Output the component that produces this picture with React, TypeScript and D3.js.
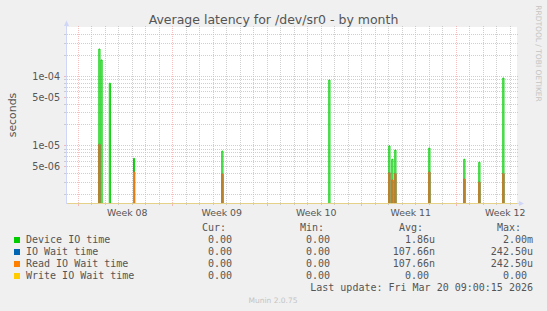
import React, { useEffect, useRef } from 'react';
import * as d3 from 'd3';

const W = 547;
const H = 311;

// x axis: one label per ISO week, starting on the Monday
const weekStarts = ['2026-02-16', '2026-02-23', '2026-03-02', '2026-03-09', '2026-03-16'];
const weekLabels = ['Week 08', 'Week 09', 'Week 10', 'Week 11', 'Week 12'];

// y axis (log) labelled lines
const yTicks = [1e-4, 5e-5, 1e-5, 5e-6];
const yTickLabels = ['1e-04', '5e-05', '1e-05', '5e-06'];

// non-zero 2h samples, everything else is 0
const sampleTimes = [
  '2026-02-17T12:30', '2026-02-17T16:20', '2026-02-18T07:06', '2026-02-20T02:08',
  '2026-02-26T15:07', '2026-03-06T13:20', '2026-03-11T00:00', '2026-03-11T05:20',
  '2026-03-11T10:40', '2026-03-13T23:07', '2026-03-16T13:20', '2026-03-17T16:00',
  '2026-03-19T10:40',
];
const deviceIO = [2.49e-4, 1.73e-4, 8.0e-5, 6.6e-6, 8.4e-6, 8.9e-5, 1.0e-5, 6.4e-6, 8.7e-6, 9.3e-6, 6.4e-6, 5.8e-6, 9.5e-5];
const ioWait = [1.05e-5, 0, 0, 4.2e-6, 3.9e-6, 0, 4.1e-6, 3.2e-6, 4.0e-6, 4.2e-6, 3.3e-6, 3.0e-6, 4.0e-6];
const readIO = [1.05e-5, 0, 0, 4.2e-6, 3.9e-6, 0, 4.1e-6, 3.2e-6, 4.0e-6, 4.2e-6, 3.3e-6, 3.0e-6, 4.0e-6];
const writeIO = [0, 0, 0, 0, 0, 0, 0, 0, 0, 0, 0, 0, 0];

// legend
const seriesNames = ['Device IO time', 'IO Wait time', 'Read IO Wait time', 'Write IO Wait time'];
const seriesColors = ['#00cc00', '#0066b3', '#ff8000', '#ffcc00'];
const curVals = ['0.00', '0.00', '0.00', '0.00'];
const minVals = ['0.00', '0.00', '0.00', '0.00'];
const avgVals = ['1.86u', '107.66n', '107.66n', '0.00'];
const maxVals = ['2.00m', '242.50u', '242.50u', '0.00'];

const SAMPLE_HOURS = 2;

const App: React.FC = () => {
  const ref = useRef<SVGSVGElement | null>(null);

  useEffect(() => {
    document.body.style.margin = '0';
    if (!ref.current) return;
    const svg = d3.select(ref.current);
    svg.selectAll('*').remove();

    const sans = 'DejaVu Sans, sans-serif';
    const mono = 'DejaVu Sans Mono, monospace';
    const textCol = '#555';
    const axisCol = '#cfd6f8';

    const left = 67, right = 517, top = 28, bottom = 203;
    const parseT = d3.timeParse('%Y-%m-%dT%H:%M');
    const parseD = d3.timeParse('%Y-%m-%d');

    const xStart = parseT('2026-02-15T03:55') as Date;
    const xEnd = parseT('2026-03-20T11:54') as Date;
    const x = d3.scaleTime().domain([xStart, xEnd]).range([left, right]);
    const yMin = 1.5e-6;
    const y = d3.scaleLog().domain([yMin, 5e-4]).range([bottom, top]);
    // zero / off-scale values sit on the axis row
    const yPos = (v: number) => (v <= yMin ? bottom + 0.5 : y(v));

    svg.append('rect').attr('width', W).attr('height', H).attr('fill', '#f0f0f0');
    svg.append('rect').attr('x', left).attr('y', 27).attr('width', right - left).attr('height', bottom - 27).attr('fill', '#fff');

    const minorCol = 'rgba(191,191,191,0.75)';
    const majorCol = 'rgba(242,128,128,0.5)';
    const grid = svg.append('g');

    // horizontal grid
    const minorY: number[] = [];
    for (let e = -6; e <= -4; e++) {
      for (let m = 1; m <= 9; m++) {
        const v = m * Math.pow(10, e);
        if (yTicks.some(t => Math.abs(t - v) / v < 1e-6)) continue;
        const py = y(v);
        if (py < top + 1 || py > bottom - 1) continue;
        minorY.push(v);
      }
    }
    const hline = (v: number, col: string) => {
      const py = Math.floor(y(v)) + 0.5;
      grid.append('line').attr('x1', left).attr('x2', right + 2).attr('y1', py).attr('y2', py)
        .attr('stroke', col).attr('stroke-dasharray', '1,1');
      grid.append('line').attr('x1', left - 3).attr('x2', left).attr('y1', py).attr('y2', py).attr('stroke', col);
    };
    minorY.forEach(v => hline(v, minorCol));
    yTicks.forEach(v => hline(v, majorCol));

    // vertical grid
    const days = d3.timeDay.range(xStart, xEnd);
    const vline = (d: Date, col: string, tick: number) => {
      const px = Math.floor(x(d)) + 0.5;
      grid.append('line').attr('x1', px).attr('x2', px).attr('y1', 26).attr('y2', bottom)
        .attr('stroke', col).attr('stroke-dasharray', '1,1');
      grid.append('line').attr('x1', px).attr('x2', px).attr('y1', bottom).attr('y2', bottom + tick).attr('stroke', col);
    };
    days.filter(d => d.getDay() !== 1).forEach(d => vline(d, minorCol, 2));
    weekStarts.forEach(s => vline(parseD(s) as Date, majorCol, 3));

    // y axis + arrow
    svg.append('line').attr('x1', left - 0.5).attr('x2', left - 0.5).attr('y1', 24).attr('y2', bottom + 1)
      .attr('stroke', axisCol);
    svg.append('path').attr('d', `M${left - 3},26 L${left - 0.5},20.5 L${left + 2},26 Z`).attr('fill', axisCol);
    svg.append('line').attr('x1', left - 1).attr('x2', right + 3).attr('y1', bottom + 0.5).attr('y2', bottom + 0.5)
      .attr('stroke', axisCol);

    // series
    svg.append('clipPath').attr('id', 'plotclip').append('rect')
      .attr('x', left).attr('y', 20).attr('width', right - left).attr('height', bottom - 20 + 1);
    const line = d3.line<[Date, number]>()
      .x(d => x(d[0]))
      .y(d => yPos(d[1]))
      .curve(d3.curveStepAfter);
    const series = [deviceIO, ioWait, readIO, writeIO];
    const lines = svg.append('g').attr('clip-path', 'url(#plotclip)');
    series.forEach((vals, i) => {
      const pts: [Date, number][] = [[xStart, 0]];
      sampleTimes.forEach((t, j) => {
        const d = parseT(t) as Date;
        pts.push([d, vals[j]]);
        pts.push([d3.timeHour.offset(d, SAMPLE_HOURS), 0]);
      });
      pts.push([xEnd, 0]);
      lines.append('path').attr('d', line(pts) || '')
        .attr('fill', 'none').attr('stroke', seriesColors[i]).attr('stroke-width', 1);
    });

    // x axis drawn over the zero lines (blends to the tan base line)
    svg.append('line').attr('x1', left - 1).attr('x2', right + 3).attr('y1', bottom + 0.5).attr('y2', bottom + 0.5)
      .attr('stroke', axisCol).attr('stroke-opacity', 0.55);
    svg.append('path').attr('d', `M${right + 2},${bottom - 2} L${right + 7},${bottom + 0.5} L${right + 2},${bottom + 3} Z`).attr('fill', axisCol);

    // y labels
    yTicks.forEach((v, i) => {
      svg.append('text').attr('x', 60).attr('y', Math.floor(y(v)) + 4)
        .attr('text-anchor', 'end').attr('font-family', sans).attr('font-size', 9.6)
        .attr('fill', textCol).text(yTickLabels[i]);
    });

    // week labels
    weekStarts.forEach((s, i) => {
      const mid = d3.timeHour.offset(parseD(s) as Date, 87);
      svg.append('text').attr('x', x(mid)).attr('y', 216)
        .attr('text-anchor', 'middle').attr('font-family', sans).attr('font-size', 9.4)
        .attr('fill', textCol).text(weekLabels[i]);
    });

    // title, unit, watermark
    svg.append('text').attr('x', W / 2).attr('y', 24).attr('text-anchor', 'middle')
      .attr('font-family', sans).attr('font-size', 12.5).attr('fill', textCol)
      .text('Average latency for /dev/sr0 - by month');
    svg.append('text').attr('transform', 'translate(15.5,115) rotate(-90)').attr('text-anchor', 'middle')
      .attr('font-family', sans).attr('font-size', 10.9).attr('fill', textCol).text('seconds');
    svg.append('text').attr('transform', 'translate(535.5,53.5) rotate(90)').attr('text-anchor', 'middle')
      .attr('font-family', sans).attr('font-size', 7.5).attr('fill', '#c4c4c4').text('RRDTOOL / TOBI OETIKER');

    // legend
    const lg = svg.append('g').attr('font-family', mono).attr('font-size', 10).attr('fill', textCol);
    const colEnds = [238, 336, 435, 533];
    const heads = ['Cur:', 'Min:', 'Avg:', 'Max:'];
    heads.forEach((h, i) => {
      lg.append('text').attr('x', colEnds[i] - 12).attr('y', 231).attr('text-anchor', 'end').text(h);
    });
    const cols = [curVals, minVals, avgVals, maxVals];
    seriesNames.forEach((name, i) => {
      const by = 243 + i * 12;
      lg.append('rect').attr('x', 14).attr('y', by - 6).attr('width', 6).attr('height', 6).attr('fill', seriesColors[i]);
      lg.append('text').attr('x', 26).attr('y', by).text(name);
      cols.forEach((c, k) => {
        const s = c[i];
        const hasUnit = /[a-zA-Z]$/.test(s);
        lg.append('text').attr('x', colEnds[k] - (hasUnit ? 0 : 6)).attr('y', by)
          .attr('text-anchor', 'end').text(s);
      });
    });
    lg.append('text').attr('x', 533).attr('y', 291).attr('text-anchor', 'end')
      .text('Last update: Fri Mar 20 09:00:15 2026');
    svg.append('text').attr('x', 273).attr('y', 303).attr('text-anchor', 'middle')
      .attr('font-family', sans).attr('font-size', 7.5).attr('fill', '#c4c4c4').text('Munin 2.0.75');
  }, []);

  return <svg ref={ref} width={W} height={H} style={{ display: 'block' }} />;
};

export default App;
